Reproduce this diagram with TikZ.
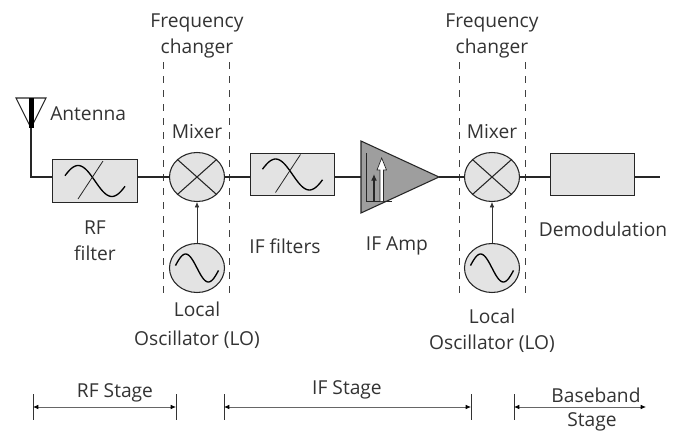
\documentclass[tikz,border=0pt]{standalone}
\usepackage{fontspec}
\setmainfont{Open Sans}
\usetikzlibrary{positioning,arrows.meta,shapes.geometric}
\definecolor{blockgray}{gray}{0.89}
\definecolor{ampgray}{gray}{0.62}
\definecolor{textgray}{gray}{0.2}
\tikzset{
  blockbox/.style={draw=black!85, fill=blockgray, line width=0.8pt, minimum width=63.5pt, minimum height=32pt, inner sep=0pt},
  roundbox/.style={draw=black!85, fill=blockgray, line width=0.8pt, ellipse, minimum width=41.25pt, minimum height=36.75pt, inner sep=0pt},
  wire/.style={black!85, line width=0.8pt},
  sinemark/.style={black, line width=1pt},
  dashline/.style={black!75, line width=0.7pt, dash pattern=on 5pt off 5.5pt},
  stagearrow/.style={black!60, line width=0.6pt, {Latex[length=4pt,width=3.5pt,black]}-{Latex[length=4pt,width=3.5pt,black]}},
  stagetick/.style={black!80, line width=0.5pt},
  lbl/.style={font=\fontsize{14.4}{19.5}\selectfont, text=textgray, align=center, inner sep=0pt}
}
\begin{document}
\begin{tikzpicture}[x=0.75pt, y=-0.75pt]
  \useasboundingbox (0,0) rectangle (679,432);

  % frequency changer bounds
  \foreach \xpos in {163.5,229.5,459,525.5}
    \draw[dashline] (\xpos,62) -- (\xpos,293);

  % blocks
  \node[blockbox] (rffilter) at (95,181) {};
  \node[roundbox] (mixa) at (197,177) {};
  \node[roundbox] (loa) at (197,268) {};
  \node[blockbox] (iffilter) at (292.5,174.5) {};
  \node[roundbox] (mixb) at (492,177) {};
  \node[roundbox] (lob) at (492,268) {};
  \node[blockbox] (demod) at (592.5,174.5) {};
  \coordinate (ampin) at (361,177);
  \coordinate (ampout) at (439,177);
  \coordinate (anttip) at (31,128);
  \coordinate (lineend) at (660,177);

  % antenna
  \draw[wire] (16,98) -- (46,98) -- (anttip) -- cycle;
  \draw[black, line width=3.75pt] (31,98) -- (anttip);
  \draw[wire] (anttip) |- (mixa.west -| rffilter.west);

  % amplifier
  \draw[wire, fill=ampgray] (361,141) -- (ampout) -- (361,213) -- cycle;
  \draw[black!85, line width=0.7pt] (366.7,153) -- (366.7,201) -- (392,201);
  \draw[black!85, line width=1.8pt, -{Latex[length=5pt,width=4.5pt]}] (374,201) -- (374,174);
  \draw[black!85, fill=white, line width=0.5pt] (380,201) -- (380,170) -- (377,170) -- (381.7,158) -- (386.5,170) -- (383.5,170) -- (383.5,201);

  % connectors
  \draw[wire] (mixa.west -| rffilter.east) -- (mixa.west);
  \draw[wire] (mixa.east) -- (mixa.east -| iffilter.west);
  \draw[wire] (ampin -| iffilter.east) -- (ampin);
  \draw[wire] (ampout) -- (mixb.west);
  \draw[wire] (mixb.east) -- (mixb.east -| demod.west);
  \draw[wire] (lineend -| demod.east) -- (lineend);
  \draw[stagetick, -{Latex[length=4pt,width=3.5pt]}] (loa.north) -- (mixa.south);
  \draw[stagetick, -{Latex[length=4pt,width=3.5pt]}] (lob.north) -- (mixb.south);

  % mixer crosses and sine marks
  \foreach \mix in {mixa,mixb} {
    \draw[wire] (\mix.north west) -- (\mix.south east);
    \draw[wire] (\mix.north east) -- (\mix.south west);
  }
  \foreach \lo in {loa,lob}
    \draw[sinemark, shift={(\lo.center)}] plot[smooth, domain=-170:170, samples=41, variable=\t] ({\t/170*21.5},{14*sin(\t)});
  \foreach \filt in {rffilter,iffilter} {
    \draw[sinemark, shift={(\filt.center)}] plot[smooth, domain=-160:160, samples=41, variable=\t] ({\t/160*30},{15.5*sin(\t)});
    \draw[black!85, line width=0.6pt, shift={(\filt.center)}] (-17,18) -- (8,-20);
  }

  % labels
  \node[lbl] (fca) at (197,35.5) {Frequency\\changer};
  \node[lbl] (fcb) at (492,35.5) {Frequency\\changer};
  \node[lbl, anchor=west] (antlbl) at (50,114) {Antenna};
  \node[lbl] (mixlbla) at (197,132) {Mixer};
  \node[lbl] (mixlblb) at (492,132) {Mixer};
  \node[lbl] (rflbl) at (95,241) {RF\\filter};
  \node[lbl] (iflbl) at (285,246) {IF filters};
  \node[lbl] (amplbl) at (397,246) {IF Amp};
  \node[lbl] (demlbl) at (603,229) {Demodulation};
  \node[lbl] (lolbla) at (197,325) {Local\\[2.5pt]Oscillator (LO)};
  \node[lbl] (lolblb) at (492,331) {Local\\Oscillator (LO)};

  % stages
  \coordinate (rfl) at (33,407);
  \coordinate (rfr) at (176,407);
  \coordinate (ifl) at (224,407);
  \coordinate (ifr) at (471,407);
  \coordinate (bbl) at (514,407);
  \coordinate (bbr) at (646,407);
  \foreach \stagept in {rfl,rfr,ifl,ifr,bbl}
    \draw[stagetick] ([yshift=-9.5pt]\stagept) -- ([yshift=9.5pt]\stagept);
  \draw[stagearrow] (rfl) -- (rfr);
  \draw[stagearrow] (ifl) -- (ifr);
  \draw[stagearrow] (bbl) -- (bbr);
  \node[lbl] (rfstage) at (115,393) {RF Stage};
  \node[lbl] (ifstage) at (347,390) {IF Stage};
  \node[lbl] (bbstage) at (596,395) {Baseband};
  \node[lbl] (bbstageb) at (592,422) {Stage};
\end{tikzpicture}
\end{document}
